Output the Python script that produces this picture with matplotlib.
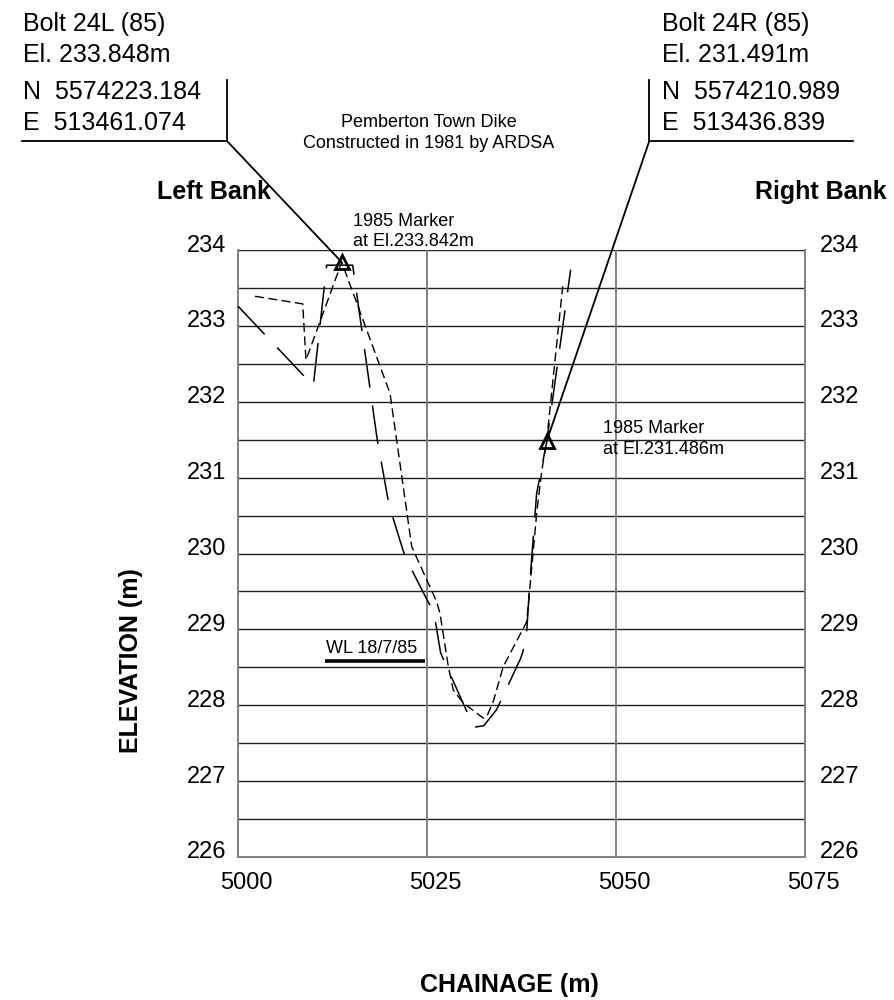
import matplotlib
matplotlib.use("Agg")
import matplotlib.pyplot as plt
import numpy as np
from matplotlib.lines import Line2D
from matplotlib.patches import ConnectionPatch
from matplotlib.transforms import ScaledTranslation

plt.rcParams['font.family'] = ['Liberation Sans', 'DejaVu Sans']
plt.rcParams['lines.scale_dashes'] = False

# ---------------- data ----------------
# Survey profile 1 (short dashes)
chain_short = [5002.25, 5008.56, 5008.99, 5013.72, 5020.11, 5022.98, 5026.26, 5026.72,
               5027.82, 5028.48, 5029.80, 5032.45, 5032.90, 5033.77, 5035.09, 5038.19,
               5038.62, 5039.10, 5039.55, 5040.17, 5040.83, 5042.95]
elev_short = [233.39, 233.29, 232.55, 233.84, 232.11, 230.09, 229.37, 229.21,
              228.51, 228.20, 228.03, 227.83, 227.85, 228.05, 228.51, 229.10,
              229.56, 230.09, 230.57, 231.08, 231.49, 233.52]

# Survey profile 2 (long dashes)
chain_long = [5000.0, 5009.96, 5011.73, 5015.17, 5018.39, 5019.97, 5022.09, 5025.0,
              5025.9, 5026.8, 5031.2, 5032.5, 5034.2, 5037.4, 5038.1, 5038.6,
              5039.5, 5040.83, 5044.0]
elev_long = [233.26, 232.21, 233.80, 233.80, 231.52, 230.64, 229.96, 229.39,
             229.23, 228.69, 227.71, 227.73, 227.94, 228.62, 228.84, 229.61,
             230.79, 231.47, 233.74]

# 1985 markers
marker_chain = [5013.7, 5040.85]
marker_elev = [233.842, 231.486]
marker_labels = [["1985 Marker", "at El.233.842m"], ["1985 Marker", "at El.231.486m"]]

# water level
wl_chain = [5011.5, 5024.7]
wl_elev = 228.58
wl_label = "WL 18/7/85"

# axes
x_ticks = [5000, 5025, 5050, 5075]
y_ticks = [226, 227, 228, 229, 230, 231, 232, 233, 234]
y_grid = np.arange(226.5, 234.01, 0.5)

bolt_left = ["Bolt 24L (85)", "El. 233.848m", "N  5574223.184", "E  513461.074"]
bolt_right = ["Bolt 24R (85)", "El. 231.491m", "N  5574210.989", "E  513436.839"]
title_lines = ["Pemberton Town Dike", "Constructed in 1981 by ARDSA"]

# ---------------- figure ----------------
W, H = 895, 1000
fig = plt.figure(figsize=(W / 100, H / 100), dpi=100)


def fx(px):
    return px / W


def fy(py):
    return 1 - py / H


ax = fig.add_axes([fx(238), fy(857), fx(805) - fx(238), fy(250) - fy(857)])
ax.set_xlim(5000, 5075)
ax.set_ylim(226, 234)

grey = '#808080'
for s in ['left', 'right', 'bottom']:
    ax.spines[s].set_color(grey)
    ax.spines[s].set_linewidth(1.4)
ax.spines['top'].set_visible(False)

ax.set_xticks(x_ticks)
ax.set_yticks(y_ticks)
ax.tick_params(length=0, labelsize=17)
ax.tick_params(axis='y', pad=8.5, labelright=True)
ax.tick_params(axis='x', pad=11)

# gridlines
for yv in y_grid:
    ax.axhline(yv, color='#222222', lw=1.0, zorder=1)
for xv in x_ticks[1:-1]:
    ax.axvline(xv, color=grey, lw=1.4, zorder=1)

# shift tick labels like the reference
for lab in ax.get_xticklabels():
    lab.set_transform(lab.get_transform() + ScaledTranslation(8 / 100, 0, fig.dpi_scale_trans))
for t in ax.yaxis.get_major_ticks():
    t.label1.set_transform(t.label1.get_transform() + ScaledTranslation(0, 7 / 100, fig.dpi_scale_trans))
    t.label2.set_transform(t.label2.get_transform() + ScaledTranslation(3 / 100, 7 / 100, fig.dpi_scale_trans))

# profiles
ax.plot(chain_long, elev_long, color='black', lw=1.1, dashes=(28, 13), zorder=3, clip_on=False)
ax.plot(chain_short, elev_short, color='black', lw=1.0, dashes=(6.5, 3.2), zorder=3, clip_on=False)

# markers
ax.plot(marker_chain, marker_elev, linestyle='none', marker='^', ms=9.5, mfc='none',
        mec='black', mew=2.0, zorder=5, clip_on=False)

# marker labels
offsets = [((8.1, 26.1), (8.1, 11.7)), ((40.3, 5.8), (40.3, -9.6))]
for (mx, my), lines, offs in zip(zip(marker_chain, marker_elev), marker_labels, offsets):
    for txt, off in zip(lines, offs):
        ax.annotate(txt, xy=(mx, my), xytext=off, textcoords='offset points',
                    fontsize=13, ha='left', va='baseline')

# water level
ax.plot(wl_chain, [wl_elev, wl_elev], color='black', lw=2.6, solid_capstyle='butt', zorder=4)
ax.text(wl_chain[0] + 0.1, wl_elev + 0.11, wl_label, fontsize=13, ha='left', va='baseline')

# bolt info blocks
baselines = [30.7, 61.7, 99.3, 130]
for txt, b in zip(bolt_left, baselines):
    fig.text(fx(23), fy(b), txt, fontsize=18, ha='left', va='baseline')
for txt, b in zip(bolt_right, baselines):
    fig.text(fx(662), fy(b), txt, fontsize=18, ha='left', va='baseline')

# box lines
fig.add_artist(Line2D([fx(227), fx(227)], [fy(80), fy(141)], transform=fig.transFigure, color='black', lw=1.3))
fig.add_artist(Line2D([fx(22), fx(227)], [fy(141), fy(141)], transform=fig.transFigure, color='black', lw=1.3))
fig.add_artist(Line2D([fx(649.3), fx(649.3)], [fy(80), fy(141)], transform=fig.transFigure, color='black', lw=1.3))
fig.add_artist(Line2D([fx(649.3), fx(853)], [fy(141), fy(141)], transform=fig.transFigure, color='black', lw=1.3))

# leader lines to markers
for (px0, py0), mx, my in zip([(227, 141), (649.3, 141)], marker_chain, marker_elev):
    cp = ConnectionPatch(xyA=(fx(px0), fy(py0)), coordsA='figure fraction',
                         xyB=(mx, my), coordsB=ax.transData, color='black', lw=1.3, zorder=6)
    fig.add_artist(cp)

# title
fig.text(fx(429), fy(127), title_lines[0], fontsize=13, ha='center', va='baseline')
fig.text(fx(429), fy(148.3), title_lines[1], fontsize=13, ha='center', va='baseline')

# bank labels
fig.text(fx(157), fy(199.3), "Left Bank", fontsize=18, fontweight='bold', ha='left', va='baseline')
fig.text(fx(887), fy(199.3), "Right Bank", fontsize=18, fontweight='bold', ha='right', va='baseline')

# axis labels
fig.text(fx(131), fy(661), "ELEVATION (m)", fontsize=18, fontweight='bold', rotation=90,
         ha='center', va='center')
fig.text(fx(509.5), fy(985), "CHAINAGE (m)", fontsize=18, fontweight='bold', ha='center', va='center')

fig.savefig("out.png", dpi=100)
